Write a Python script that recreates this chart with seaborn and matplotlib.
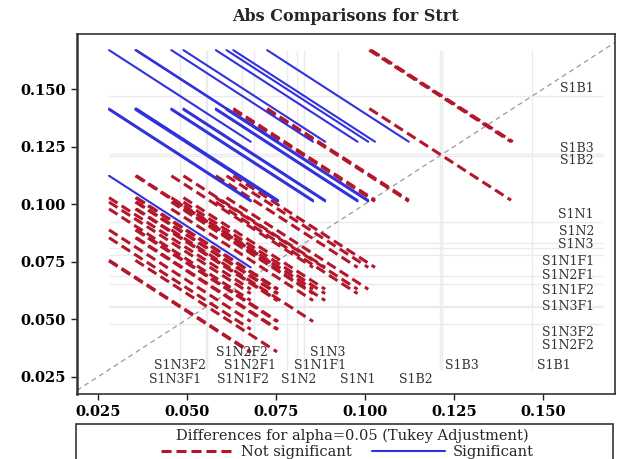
# Diffogram (mean-mean comparison plot) for the Strt levels, Tukey adjusted
import numpy as np
import pandas as pd
import seaborn as sns
import matplotlib.pyplot as plt
from matplotlib.lines import Line2D
from matplotlib.patches import Rectangle

levels = ['S1B1', 'S1B3', 'S1B2', 'S1N1', 'S1N2', 'S1N3', 'S1N1F1', 'S1N2F1',
          'S1N1F2', 'S1N3F1', 'S1N3F2', 'S1N2F2']
means = [0.1470, 0.1216, 0.1211, 0.0924, 0.0829, 0.0810, 0.0780, 0.0689,
         0.0655, 0.0557, 0.0554, 0.0480]
ci_width = 0.0398  # half width of the Tukey interval of a difference

# where the level names sit on the chart
right_lab_y = [0.1503, 0.1240, 0.1188, 0.0953, 0.0881, 0.0826, 0.0750, 0.0688,
               0.0625, 0.0553, 0.0443, 0.0386]
bottom_lab_x = [0.1531, 0.1272, 0.1143, 0.0980, 0.0813, 0.0894, 0.0874, 0.0677,
                0.0656, 0.0466, 0.0480, 0.0654]
bottom_lab_row = [2, 2, 3, 3, 3, 1, 2, 2, 3, 3, 2, 1]
row_y = {1: 0.0357, 2: 0.0298, 3: 0.0240}

ticks = [0.025, 0.050, 0.075, 0.100, 0.125, 0.150]

RED = '#b3172b'
BLUE = '#3232dc'

sns.set_theme(style='white')
plt.rcParams['font.family'] = ['DejaVu Serif']

# one segment per pair, centred on (low mean, high mean), slope -1
h = ci_width / 2
rows = []
k = 0
for i in range(len(levels)):
    for j in range(i + 1, len(levels)):
        lo, hi = sorted([means[i], means[j]])
        kind = 'Significant' if hi - lo > ci_width else 'Not significant'
        rows.append((k, lo - h, hi + h, kind))
        rows.append((k, lo + h, hi - h, kind))
        k += 1
seg = pd.DataFrame(rows, columns=['pair', 'x', 'y', 'kind'])

fig = plt.figure(figsize=(6.22, 4.59), dpi=100)
ax = fig.add_axes([0.1238, 0.1416, 0.8649, 0.7843])

lo_all, hi_all = min(means) - h, max(means) + h
ax.hlines(means, lo_all, hi_all, color='#ebebeb', lw=1.0, zorder=0)
ax.vlines(means, lo_all, hi_all, color='#ebebeb', lw=1.0, zorder=0)
ax.axline((0.025, 0.025), slope=1, color='#9a9a9a', lw=0.9,
          dashes=(4, 3), zorder=1)

sns.lineplot(data=seg, x='x', y='y', units='pair', estimator=None, sort=False,
             hue='kind', style='kind', size='kind',
             palette={'Not significant': RED, 'Significant': BLUE},
             dashes={'Not significant': (3.3, 1.6), 'Significant': ''},
             sizes={'Not significant': 2.2, 'Significant': 1.5},
             legend=False, ax=ax)

for name, y in zip(levels, right_lab_y):
    ax.text(0.1643, y, name, ha='right', va='center', fontsize=9, color='#333333')
for name, x, r in zip(levels, bottom_lab_x, bottom_lab_row):
    ax.text(x, row_y[r], name, ha='center', va='center', fontsize=9, color='#333333')

ax.set_xlim(0.0191, 0.1702)
ax.set_ylim(0.0175, 0.1739)
ax.set_xticks(ticks)
ax.set_yticks(ticks)
ax.set_xticklabels([f'{t:.3f}' for t in ticks])
ax.set_yticklabels([f'{t:.3f}' for t in ticks])
ax.tick_params(direction='out', length=4, width=1, color='#222222',
               labelsize=10.5, labelcolor='black', pad=4,
               bottom=True, left=True)
for lab in ax.get_xticklabels() + ax.get_yticklabels():
    lab.set_fontweight('bold')
ax.set_xlabel('')
ax.set_ylabel('')
for s in ax.spines.values():
    s.set_color('#333333')
    s.set_linewidth(1.2)
ax.spines['left'].set_linewidth(1.8)

fig.text(0.556, 0.963, 'Abs Comparisons for Strt', ha='center', va='center',
         fontsize=11.5, fontweight='bold')

# legend box under the plot
fig.patches.append(Rectangle((0.1222, -0.05), 0.8633, 0.1263,
                             transform=fig.transFigure, fill=False,
                             edgecolor='#333333', lw=1.2))
fig.text(0.566, 0.050, 'Differences for alpha=0.05 (Tukey Adjustment)',
         ha='center', va='center', fontsize=10.5)
handles = [Line2D([], [], color=RED, lw=2.2, dashes=(3.3, 1.6)),
           Line2D([], [], color=BLUE, lw=1.5)]
fig.legend(handles, ['Not significant', 'Significant'], ncol=2, loc='center',
           bbox_to_anchor=(0.558, 0.016), frameon=False, fontsize=10.5,
           handlelength=5, handletextpad=0.5, columnspacing=1.4,
           borderpad=0, borderaxespad=0)

fig.savefig('out.png', dpi=100)
